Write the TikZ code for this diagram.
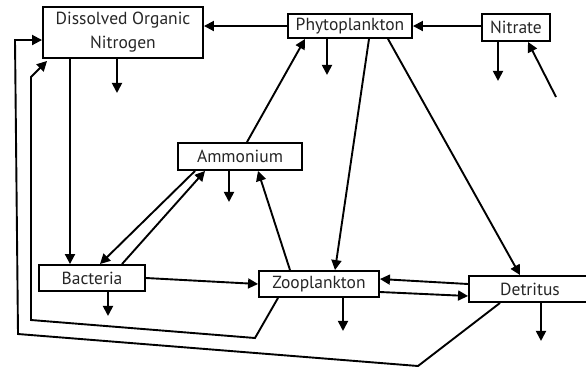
\documentclass[tikz,border=0pt]{standalone}
\usepackage{fontspec}
\setmainfont{PT Sans}
\usetikzlibrary{arrows.meta}
\begin{document}
\begin{tikzpicture}[x=1pt, y=-1pt, pool/.style={draw, line width=1.9pt, inner sep=0pt, align=center, text=black!85, font=\fontsize{17.5}{24}\selectfont}, flow/.style={line width=1.9pt, -{Triangle[length=10pt, width=10pt]}}]
			\useasboundingbox (0,0) rectangle (586,368);
			\node[pool, minimum width=160, minimum height=51] (don) at (123,32.5) {Dissolved Organic\\Nitrogen};
			\node[pool, minimum width=124, minimum height=24] (phy) at (350,26) {Phytoplankton};
			\node[pool, minimum width=68, minimum height=27] (nit) at (516,27.5) {Nitrate};
			\node[pool, minimum width=124, minimum height=27] (amm) at (240,156.5) {Ammonium};
			\node[pool, minimum width=106, minimum height=26] (bac) at (92,278) {Bacteria};
			\node[pool, minimum width=120, minimum height=26] (zoo) at (319,284) {Zooplankton};
			\node[pool, minimum width=122, minimum height=26] (det) at (530,289) {Detritus};
			\coordinate (src) at (556,97);
			\draw[flow] (src) -- ([xshift=12]nit.south);
			\draw[flow] (phy.east -| nit.west) -- (phy.east);
			\draw[flow] (phy.west) -- (phy.west -| don.east);
			\draw[flow] ([xshift=7]amm.north) -- ([xshift=-45]phy.south);
			\draw[flow] ([xshift=19]phy.south) -- ([xshift=16]zoo.north);
			\draw[flow] ([xshift=38]phy.south) -- ([xshift=-10]det.north);
			\draw[flow] ([xshift=-53]don.south) -- ([xshift=-53]don.south |- bac.north);
			\draw[flow] ([xshift=-45]amm.south) -- ([xshift=8]bac.north);
			\draw[flow] ([xshift=30]bac.north) -- ([xshift=-35]amm.south);
			\draw[flow] ([xshift=-29]zoo.north) -- ([xshift=18]amm.south);
			\draw[flow] (bac.east) -- (zoo.west);
			\draw[flow] ([yshift=5]det.west) -- ([yshift=5]zoo.east);
			\draw[flow] ([yshift=-8]zoo.east) -- ([yshift=-7]det.west);
			% returns to DON
			\draw[flow] ([xshift=-41]zoo.south) -- (255,338) -- (31,320) -- (31,77) -- ([xshift=5,yshift=-2]don.south west);
			\draw[flow] ([xshift=-30]det.south) -- (418,366) -- (18,334) -- (15,40) -- ([yshift=-7.5]don.west);
			% losses
			\draw[flow] ([xshift=-6]don.south) -- ++(0,34);
			\draw[flow] ([xshift=-23]phy.south) -- ++(0,36);
			\draw[flow] ([xshift=-18]nit.south) -- ++(0,39);
			\draw[flow] ([xshift=-11]amm.south) -- ++(0,31);
			\draw[flow] ([xshift=16]bac.south) -- ++(0,24);
			\draw[flow] ([xshift=24]zoo.south) -- ++(0,33);
			\draw[flow] ([xshift=11]det.south) -- ++(0,38);
\end{tikzpicture}
\end{document}
